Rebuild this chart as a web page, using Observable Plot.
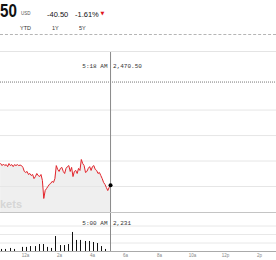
<!DOCTYPE html>
<html><head><meta charset="utf-8">
<script src="https://cdn.jsdelivr.net/npm/d3@7"></script>
<script src="https://cdn.jsdelivr.net/npm/@observablehq/plot@0.6"></script>
<style>
html,body{margin:0;padding:0;background:#fff;}
#root{position:relative;width:276px;height:260px;overflow:hidden;font-family:"Liberation Sans",Arial,sans-serif;}
.abs{position:absolute;white-space:nowrap;line-height:1;}
.panel{position:absolute;left:0;}
</style></head><body><div id="root"></div>
<script>
// ---- header texts ----
const quoteTail = "50";
const currency = "USD";
const changeText = "-40.50";
const changePct = "-1.61%";
const rangeLabels = ["YTD", "1Y", "5Y"];
const watermark = "kets";

// ---- price series (hours since midnight, 5-minute steps) ----
const priceStart = -1.5;
const priceStepHours = 1 / 12;
const priceValues = [
  2479.0, 2478.2, 2478.8, 2478.2, 2478.6, 2477.8, 2479.0, 2478.2, 2478.6, 2477.8,
  2478.6, 2478.2, 2478.6, 2478.2, 2478.4, 2478.2, 2477.5, 2475.9, 2475.5, 2475.9,
  2474.7, 2475.1, 2474.3, 2474.7, 2473.1, 2473.9, 2475.1, 2474.3, 2473.9, 2474.7,
  2472.4, 2465.3, 2468.4, 2469.2, 2470.0, 2470.8, 2471.2, 2472.0, 2471.6, 2473.1,
  2478.2, 2476.7, 2475.9, 2477.1, 2477.5, 2475.9, 2475.1, 2477.1, 2477.8, 2478.2,
  2475.9, 2477.5, 2473.9, 2475.9, 2476.3, 2475.1, 2477.1, 2476.3, 2480.6, 2479.0,
  2478.2, 2475.5, 2475.9, 2477.1, 2477.8, 2476.3, 2477.8, 2478.2, 2476.7, 2476.3,
  2475.1, 2475.5, 2474.3, 2473.1, 2471.6, 2470.8, 2469.6, 2468.4, 2469.6, 2470.5
];
const prevClose = 2511.0;
const priceGrid = [2470, 2480, 2490, 2500];
const lastTimeLabel = "5:18 AM";
const lastPriceLabel = "2,470.50";

// ---- volume series (15-minute bars) ----
const volumeStart = -1.5;
const volumeStepHours = 0.25;
const volumeValues = [
  1200, 1200, 1800, 1200, 0, 2400, 2400, 2900, 2900, 4100,
  4100, 2400, 1800, 8800, 3500, 3500, 4100, 11200, 6500, 6500,
  5900, 5900, 5300, 4700, 2900, 1200
];
const volumeGrid = [5000, 10000, 15000];
const volumeTimeLabel = "5:00 AM";
const volumeLabel = "2,231";

// ---- time axis ----
const tickHours = [0, 2, 4, 6, 8, 10, 12, 14];
const tickLabels = ["12a", "2a", "4a", "6a", "8a", "10a", "12p", "2p"];

// ---- build tables ----
const price = priceValues.map((v, i) => ({t: priceStart + i * priceStepHours, v}));
const last = price[price.length - 1];
const volume = volumeValues.map((v, i) => ({t: volumeStart + i * volumeStepHours, v}));

const W = 276;
const pxPerHour = 16.69;
const xStart = -25.2 / pxPerHour;
const xDomain = [xStart, xStart + W / pxPerHour];
const priceDomain = [2459.4, 2522.6];
const volDomain = [0, 22353];

const root = document.getElementById("root");
function addText(txt, css) {
  const d = document.createElement("div");
  d.className = "abs";
  d.textContent = txt;
  Object.assign(d.style, css);
  root.appendChild(d);
  return d;
}
function addLine(css) {
  const d = document.createElement("div");
  d.style.position = "absolute";
  Object.assign(d.style, css);
  root.appendChild(d);
}

// header
addText(quoteTail, {left: "0px", top: "1.2px", fontSize: "19px", fontWeight: "bold", color: "#111",
  transform: "scaleX(0.8)", transformOrigin: "0 0"});
addText(currency, {left: "21px", top: "12.2px", fontSize: "4.5px", color: "#555"});
addText(changeText, {left: "47px", top: "10.7px", fontSize: "7.5px", color: "#111"});
addText(changePct, {left: "75px", top: "10.7px", fontSize: "7.5px", color: "#111"});
addText("▼", {left: "100.5px", top: "11px", fontSize: "5px", color: "#e0141b", fontFamily: "DejaVu Sans"});
const rangeX = [20, 52, 79];
rangeLabels.forEach((s, i) => addText(s, {left: rangeX[i] + "px", top: "26.3px", fontSize: "5.5px", color: "#333"}));
addLine({left: "0px", top: "34px", width: W + "px", height: "0px", borderTop: "1px dashed #b5b5b5"});
addLine({left: "0px", top: "51px", width: W + "px", height: "1px", background: "#e4e4e4"});

// price panel
const priceChart = Plot.plot({
  width: W, height: 161, margin: 0,
  x: {domain: xDomain, axis: null},
  y: {domain: priceDomain, axis: null},
  style: {background: "transparent", overflow: "hidden"},
  marks: [
    Plot.areaY(price, {x: "t", y1: priceDomain[0], y2: "v", fill: "#efefef"}),
    Plot.ruleY(priceGrid, {stroke: "#e6e6e6"}),
    Plot.ruleY([prevClose], {stroke: "#777", strokeDasharray: "1,1"}),
    Plot.ruleX([last.t], {stroke: "#8a8a8a"}),
    Plot.lineY(price, {x: "t", y: "v", stroke: "#e3242b", strokeWidth: 1}),
    Plot.dot([last], {x: "t", y: "v", r: 2, fill: "#000", stroke: null}),
    Plot.text([last], {x: "t", text: () => lastTimeLabel, frameAnchor: "top", dy: 11, dx: -3, textAnchor: "end", fontFamily: "Liberation Mono, monospace", fontSize: 6, fill: "#333"}),
    Plot.text([last], {x: "t", text: () => lastPriceLabel, frameAnchor: "top", dy: 11, dx: 2.5, textAnchor: "start", fontFamily: "Liberation Mono, monospace", fontSize: 6, fill: "#333"})
  ]
});
const pWrap = document.createElement("div");
pWrap.className = "panel"; pWrap.style.top = "52px";
pWrap.appendChild(priceChart);
root.appendChild(pWrap);

addText(watermark, {left: "0px", top: "198.7px", fontSize: "11px", fontWeight: "bold", color: "#d6d6d6"});
addLine({left: "0px", top: "212px", width: W + "px", height: "1px", background: "#c4c4c4"});

// volume panel
const volChart = Plot.plot({
  width: W, height: 47, marginTop: 0, marginBottom: 9, marginLeft: 0, marginRight: 0,
  x: {domain: xDomain, axis: null, round: true},
  y: {domain: volDomain, axis: null},
  style: {background: "transparent", overflow: "hidden"},
  marks: [
    Plot.ruleY(volumeGrid, {stroke: "#e8e8e8"}),
    Plot.ruleY([0], {stroke: "#aaa"}),
    Plot.ruleX(volume, {x: "t", y1: 0, y2: "v", stroke: "#111", dx: 1}),
    Plot.ruleX([last.t], {stroke: "#8a8a8a"}),
    Plot.text([last], {x: "t", text: () => volumeTimeLabel, frameAnchor: "top", dy: 7, dx: -3, textAnchor: "end", fontFamily: "Liberation Mono, monospace", fontSize: 6, fill: "#333"}),
    Plot.text([last], {x: "t", text: () => volumeLabel, frameAnchor: "top", dy: 7, dx: 2.5, textAnchor: "start", fontFamily: "Liberation Mono, monospace", fontSize: 6, fill: "#333"}),
    Plot.text(tickHours, {x: d => d, text: (d, i) => tickLabels[i], frameAnchor: "bottom", dy: 5.5, fontSize: 4.5, fill: "#888", fontFamily: "Liberation Sans, Arial, sans-serif"})
  ]
});
const vWrap = document.createElement("div");
vWrap.className = "panel"; vWrap.style.top = "213px";
vWrap.appendChild(volChart);
root.appendChild(vWrap);
</script></body></html>
